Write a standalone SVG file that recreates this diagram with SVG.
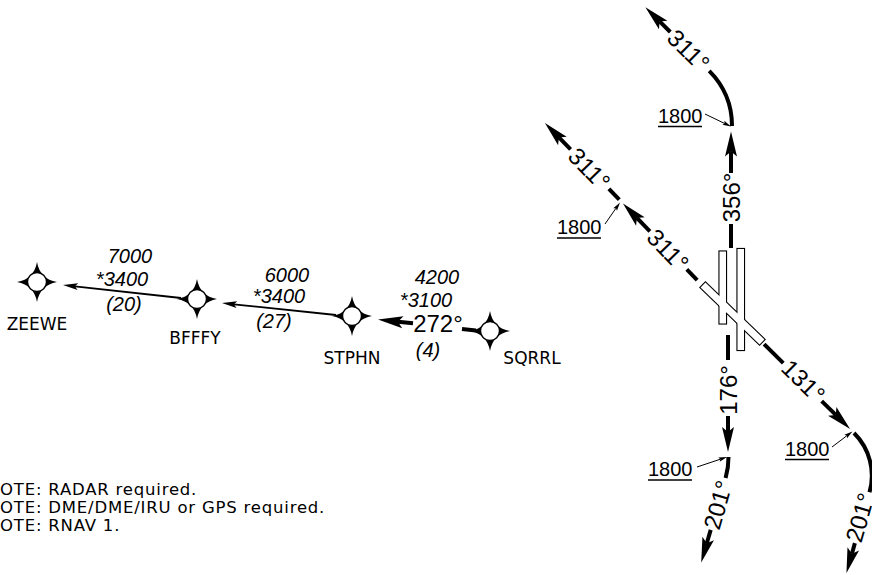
<svg xmlns="http://www.w3.org/2000/svg" xmlns:xlink="http://www.w3.org/1999/xlink" width="872" height="575" viewBox="0 0 872 575">
<style>
.num{font-family:"Liberation Sans",Arial,sans-serif;font-style:italic;font-size:20px;text-anchor:middle;fill:#000}
.crs{font-family:"Liberation Sans",Arial,sans-serif;font-size:24px;text-anchor:middle;fill:#000}
.alt{font-family:"Liberation Sans",Arial,sans-serif;font-size:20px;fill:#000}
.name{font-family:"DejaVu Sans",Verdana,sans-serif;font-size:17px;text-anchor:middle;fill:#000}
.note{font-family:"DejaVu Sans",Verdana,sans-serif;font-size:16.5px;letter-spacing:0.8px;fill:#000}
.thick{stroke:#000;stroke-width:4;fill:none}
.thin{stroke:#000;stroke-width:1.8;fill:none}
.lead{stroke:#000;stroke-width:1;fill:none}
.ul{stroke:#000;stroke-width:1.3}
.rwo{fill:#fff;stroke:#000;stroke-width:2.2}
.rwi{fill:#fff;stroke:none}
</style>
<defs>
<marker id="ah" markerUnits="userSpaceOnUse" markerWidth="40" markerHeight="40" refX="0" refY="0" orient="auto" overflow="visible"><path d="M20,0 L-5,-6 L0,0 L-5,6 Z" fill="#000"/></marker>
<marker id="at" markerUnits="userSpaceOnUse" markerWidth="30" markerHeight="30" refX="0" refY="0" orient="auto" overflow="visible"><path d="M12,0 L-3,-3.5 L0,0 L-3,3.5 Z" fill="#000"/></marker>
<marker id="al" markerUnits="userSpaceOnUse" markerWidth="20" markerHeight="20" refX="0" refY="0" orient="auto" overflow="visible"><path d="M7,0 L-1.5,-2.2 L0,0 L-1.5,2.2 Z" fill="#000"/></marker>
<g id="star">
<path d="M-20,0 Q-3,-3 0,-20 Q3,-3 20,0 Q3,3 0,20 Q-3,3 -20,0 Z" fill="#000"/>
<circle r="9.5" fill="#fff" stroke="#000" stroke-width="1.4"/>
</g>
</defs>
<rect width="872" height="575" fill="#fff"/>

<g id="connectors">
<!-- ZEEWE <- BFFFY -->
<line class="thin" x1="181" y1="298" x2="74.9" y2="286.3" marker-end="url(#at)"/>
<!-- BFFFY <- STPHN -->
<line class="thin" x1="336" y1="315" x2="233.9" y2="304.3" marker-end="url(#at)"/>
<!-- STPHN <- SQRRL 272 -->
<line class="thick" x1="476" y1="330.5" x2="462" y2="329"/>
<line class="thick" x1="413" y1="323.3" x2="397.9" y2="321.7" marker-end="url(#ah)"/>
<!-- 356 route -->
<line class="thick" x1="731" y1="248" x2="731" y2="224"/>
<line class="thick" x1="731" y1="173" x2="731" y2="151.5" marker-end="url(#ah)"/>
<!-- top turn to 311 -->
<path class="thick" d="M732,126 A78,78 0 0 0 709.2,70.9"/>
<line class="thick" x1="670.3" y1="32" x2="659.6" y2="21.4" marker-end="url(#ah)"/>
<!-- 311 route from runway -->
<line class="thick" x1="697.2" y1="280.1" x2="686.8" y2="269.4"/>
<line class="thick" x1="649.9" y1="231.3" x2="636.9" y2="217.9" marker-end="url(#ah)"/>
<line class="thick" x1="619.3" y1="199.7" x2="608.9" y2="188.9"/>
<line class="thick" x1="570.6" y1="149.4" x2="558.9" y2="137.4" marker-end="url(#ah)"/>
<!-- 176 route -->
<line class="thick" x1="728" y1="335" x2="728" y2="360"/>
<line class="thick" x1="728" y1="416" x2="728" y2="432" marker-end="url(#ah)"/>
<path class="thick" d="M728.5,457 A76,76 0 0 1 725.6,478"/>
<line class="thick" x1="710.7" y1="529.9" x2="706.8" y2="543.3" marker-end="url(#ah)"/>
<!-- 131 route -->
<line class="thick" x1="764.1" y1="344.1" x2="783.3" y2="363.1"/>
<line class="thick" x1="821.7" y1="401.1" x2="835.8" y2="414.9" marker-end="url(#ah)"/>
<path class="thick" d="M854,433 A60,60 0 0 1 869.5,492.2"/>
<line class="thick" x1="854.9" y1="543.1" x2="851.9" y2="553.7" marker-end="url(#ah)"/>
<!-- altitude leaders -->
<line class="lead" x1="705" y1="114" x2="724.7" y2="123.5" marker-end="url(#al)"/>
<line class="lead" x1="605" y1="224" x2="616" y2="208.2" marker-end="url(#al)"/>
<line class="lead" x1="697" y1="467" x2="720.4" y2="459.2" marker-end="url(#al)"/>
<line class="lead" x1="832" y1="447" x2="846.9" y2="435.7" marker-end="url(#al)"/>
</g>

<g id="leg-labels">
<text class="num" x="130" y="263">7000</text>
<text class="num" x="122" y="286">*3400</text>
<text class="num" x="124" y="311">(20)</text>
<text class="num" x="287" y="282">6000</text>
<text class="num" x="279" y="303">*3400</text>
<text class="num" x="274" y="328">(27)</text>
<text class="num" x="437" y="284">4200</text>
<text class="num" x="426" y="307">*3100</text>
<text class="crs" x="438" y="332">272°</text>
<text class="num" x="428" y="357">(4)</text>
</g>

<g id="course-labels">
<text class="crs" transform="translate(731,197.5) rotate(-90)" y="8.6">356°</text>
<text class="crs" transform="translate(688.6,50.3) rotate(45)" y="8.6">311°</text>
<text class="crs" transform="translate(668,250) rotate(45.9)" y="8.6">311°</text>
<text class="crs" transform="translate(589.4,168.8) rotate(45.9)" y="8.6">311°</text>
<text class="crs" transform="translate(728,390) rotate(-90)" y="8.6">176°</text>
<text class="crs" transform="translate(717.8,504.9) rotate(-74)" y="8.6">201°</text>
<text class="crs" transform="translate(803.5,381) rotate(44.7)" y="8.6">131°</text>
<text class="crs" transform="translate(859.8,517.5) rotate(-74)" y="8.6">201°</text>
</g>

<g id="altitudes">
<text class="alt" x="658" y="123">1800</text><line class="ul" x1="658" y1="126.5" x2="702" y2="126.5"/>
<text class="alt" x="557" y="234">1800</text><line class="ul" x1="557" y1="238" x2="601" y2="238"/>
<text class="alt" x="648" y="476">1800</text><line class="ul" x1="648" y1="480" x2="692" y2="480"/>
<text class="alt" x="785" y="456">1800</text><line class="ul" x1="785" y1="459.5" x2="829" y2="459.5"/>
</g>

<g id="ZEEWE"><use href="#star" xlink:href="#star" x="37" y="282"/><text class="name" x="37" y="330">ZEEWE</text></g>
<g id="BFFFY"><use href="#star" xlink:href="#star" x="197" y="299"/><text class="name" x="195" y="344">BFFFY</text></g>
<g id="STPHN"><use href="#star" xlink:href="#star" x="352" y="316"/><text class="name" x="352" y="364">STPHN</text></g>
<g id="SQRRL"><use href="#star" xlink:href="#star" x="490" y="331"/><text class="name" x="532" y="364">SQRRL</text></g>

<g id="airport">
<rect class="rwo" x="719.5" y="251.5" width="6.5" height="72"/>
<rect class="rwo" x="737.5" y="249" width="6.5" height="101"/>
<rect class="rwo" transform="translate(732.5,313.5) rotate(44)" x="-41" y="-3.5" width="82" height="7"/>
<rect class="rwi" x="719.5" y="251.5" width="6.5" height="72"/>
<rect class="rwi" x="737.5" y="249" width="6.5" height="101"/>
<rect class="rwi" transform="translate(732.5,313.5) rotate(44)" x="-41" y="-3.5" width="82" height="7"/>
</g>

<g id="notes">
<text class="note" x="0" y="495">OTE: RADAR required.</text>
<text class="note" x="0" y="513">OTE: DME/DME/IRU or GPS required.</text>
<text class="note" x="0" y="531">OTE: RNAV 1.</text>
</g>
</svg>
